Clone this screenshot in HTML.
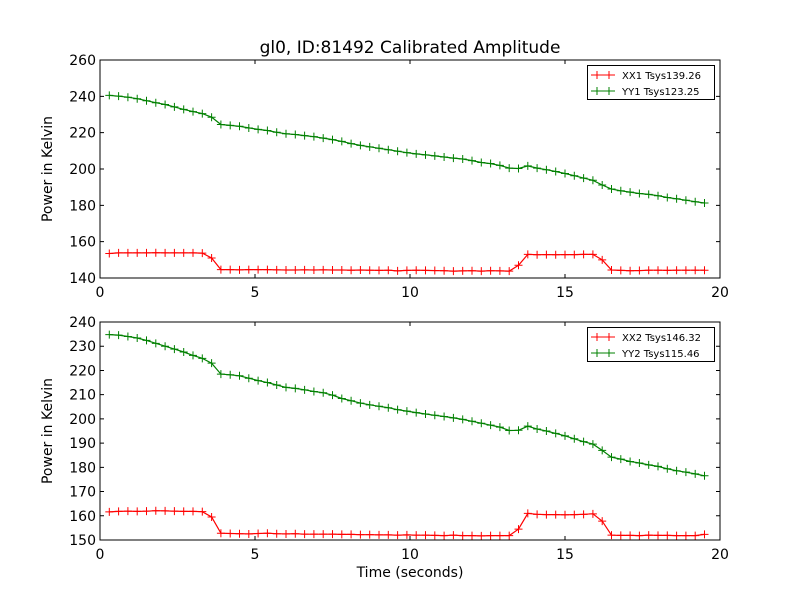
<!DOCTYPE html>
<html><head><meta charset="utf-8"><style>
body{margin:0;background:#fff;}
svg{display:block;font-family:"DejaVu Sans","Liberation Sans",sans-serif;}
</style></head><body>
<svg id="chart" width="800" height="600"></svg>
<script>
const tStart = 0.3, tStep = 0.3;
const xx1 = [153.5,153.8,153.8,153.8,153.8,153.9,153.8,153.8,153.8,153.8,153.7,151,
144.6,144.6,144.5,144.6,144.6,144.6,144.5,144.4,144.4,144.5,144.4,144.5,144.4,144.4,144.3,144.4,144.3,144.2,144.3,143.9,144.2,144.3,144.2,144.1,144.0,143.8,143.9,144.0,143.8,144.0,143.9,143.8,
147,153.0,152.8,152.9,152.8,152.9,152.9,153.0,153.0,150,
144.4,144.2,144.0,144.1,144.3,144.3,144.2,144.3,144.3,144.3,144.3];
const yy1 = [240.5,240.1,239.5,238.7,237.6,236.5,235.5,234.2,232.8,231.6,230.5,228.5,224.5,
224.0,223.5,222.6,221.8,221.2,220.2,219.4,219.0,218.4,217.8,217.0,216.2,215.2,214.0,213.0,212.2,211.4,210.6,209.8,209.0,208.3,
207.8,207.2,206.6,206.0,205.5,204.6,203.6,203.0,202.0,
200.5,200.3,201.7,200.5,199.6,198.6,197.5,196.3,195.0,193.8,191.2,189.0,188.0,187.3,186.5,186.0,185.3,184.3,183.6,182.8,182.0,181.3];
const xx2 = [161.6,161.8,161.9,161.8,161.9,162.1,162.0,161.9,161.8,161.8,161.7,159.5,
152.8,152.7,152.6,152.5,152.7,152.8,152.6,152.5,152.6,152.4,152.4,152.4,152.4,152.3,152.3,152.2,152.2,152.1,152.1,152.0,152.1,152.0,152.0,151.9,151.8,152.0,151.8,151.8,151.7,151.8,151.8,151.8,
154.5,161.0,160.6,160.5,160.5,160.4,160.5,160.6,160.8,157.8,
152.0,151.9,151.9,151.8,152.0,151.9,151.9,151.8,151.8,151.8,152.3];
const yy2 = [234.8,234.6,234.0,233.4,232.4,231.2,230.0,228.8,227.6,226.2,225.0,223,218.5,
218.2,217.8,216.8,215.8,215.0,214.0,213.0,212.6,212.0,211.3,210.8,209.8,208.4,207.5,206.5,205.8,205.2,204.6,203.8,203.2,202.6,
202.0,201.5,201.0,200.4,199.8,199.0,198.2,197.4,196.6,
195.2,195.3,197.0,195.8,195.0,194.0,193.0,191.8,190.6,189.6,187.0,184.2,183.4,182.4,181.8,181.0,180.4,179.4,178.6,178.0,177.3,176.5];
const xTicks = [0,5,10,15,20];
const yTicks1 = [140,160,180,200,220,240,260];
const yTicks2 = [150,160,170,180,190,200,210,220,230,240];
const legend1 = ["XX1 Tsys139.26","YY1 Tsys123.25"];
const legend2 = ["XX2 Tsys146.32","YY2 Tsys115.46"];

const NS="http://www.w3.org/2000/svg";
const svg=document.getElementById('chart');
function mk(tag,attrs,parent){const e=document.createElementNS(NS,tag);for(const k in attrs)e.setAttribute(k,attrs[k]);(parent||svg).appendChild(e);return e;}

function panel(name,top,bottom,yMin,yMax,yTicks,s1,s2,leg,showXLabel){
  const L=100,R=720;
  const g=mk('g',{});
  
  
  const xs=v=>L+(v-0)/(20-0)*(R-L);
  const ys=v=>bottom-(v-yMin)/(yMax-yMin)*(bottom-top);
  const series=[[s1,'#ff0000',leg[0]],[s2,'#008000',leg[1]]];
  series.forEach(([d,c,lab],si)=>{
    const sg=mk('g',{},g);
    
    
    const pts=d.map((v,i)=>xs(tStart+i*tStep).toFixed(1)+','+ys(v).toFixed(1)).join(' ');
    const pl=mk('polyline',{points:pts,fill:'none',stroke:c,'stroke-width':1.2},sg);
    
    
    d.forEach((v,i)=>{
      const x=xs(tStart+i*tStep),y=ys(v);
      const p=mk('path',{d:`M${x-4},${y}H${x+4}M${x},${y-4}V${y+4}`,stroke:c,'stroke-width':1},sg);
      
      
    });
  });
  const fr=mk('rect',{x:L,y:top,width:R-L,height:bottom-top,fill:'none',stroke:'#000','stroke-width':1},g);
  
  
  xTicks.forEach(t=>{
    const x=xs(t);
    mk('path',{d:`M${x},${bottom}v-4M${x},${top}v4`,stroke:'#000'},g);
    const tx=mk('text',{x:x,y:bottom+19,'text-anchor':'middle','font-size':14},g);
    tx.textContent=t;
    
    
  });
  yTicks.forEach(t=>{
    const y=ys(t);
    mk('path',{d:`M${L},${y}h4M${R},${y}h-4`,stroke:'#000'},g);
    const tx=mk('text',{x:L-4,y:y+5,'text-anchor':'end','font-size':14},g);
    tx.textContent=t;
    
    
  });
  const yl=mk('text',{x:0,y:0,transform:`translate(52,${(top+bottom)/2}) rotate(-90)`,'text-anchor':'middle','font-size':14},g);
  yl.textContent='Power in Kelvin';
  
  
  const lg=mk('g',{},g);
  
  
  mk('rect',{x:587.5,y:top+5.5,width:127,height:34,fill:'#fff',stroke:'#000'},lg);
  series.forEach(([d,c,lab],i)=>{
    const y=top+15+i*16;
    const ent=mk('g',{},lg);
    
    
    mk('path',{d:`M591,${y}h24M597,${y-4}v8M609,${y-4}v8`,stroke:c,'stroke-width':1},ent);
    const tx=mk('text',{x:622,y:y+4,'font-size':10},ent);
    tx.textContent=lab;
  });
  if(showXLabel){
    const xl=mk('text',{x:410,y:577,'text-anchor':'middle','font-size':14},g);
    xl.textContent='Time (seconds)';
    
    
  }
}
const title=mk('text',{x:410,y:53,'text-anchor':'middle','font-size':17});
title.textContent='gl0, ID:81492 Calibrated Amplitude';


panel('top-panel',60,278,140,260,yTicks1,xx1,yy1,legend1,false);
panel('bottom-panel',322,540,150,240,yTicks2,xx2,yy2,legend2,true);
</script>
</body></html>
